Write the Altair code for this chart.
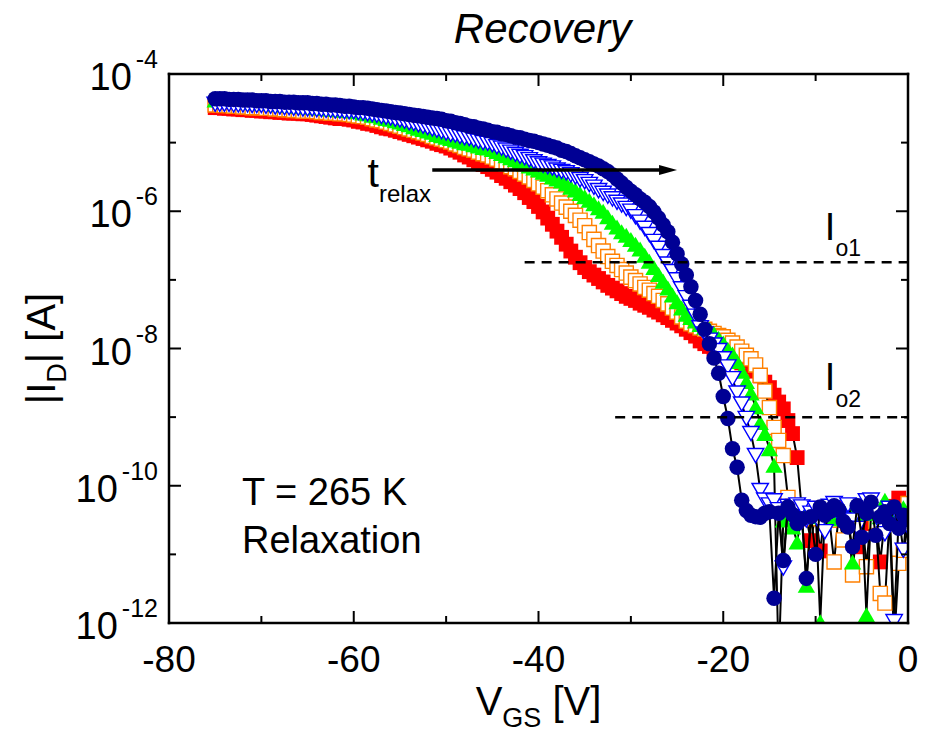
import altair as alt
import pandas as pd

FONT = "Liberation Sans"

# Gate-voltage sweep shared by every transfer curve: -75 V to 0 V in 0.5 V steps
VGS_START = -75.0
VGS_STEP = 0.5

# log10(|I_D| / 1 A) along the sweep, one list per relaxation time (shortest first)
log_id_red = [
    -4.49, -4.49, -4.50, -4.50, -4.51, -4.51, -4.52, -4.52, -4.53, -4.53,
    -4.54, -4.54, -4.55, -4.55, -4.56, -4.56, -4.57, -4.57, -4.57, -4.58,
    -4.58, -4.59, -4.60, -4.61, -4.62, -4.63, -4.64, -4.65, -4.65, -4.66,
    -4.67, -4.69, -4.70, -4.72, -4.73, -4.75, -4.77, -4.79, -4.80, -4.82,
    -4.84, -4.86, -4.88, -4.90, -4.92, -4.94, -4.96, -4.98, -5.01, -5.03,
    -5.05, -5.08, -5.11, -5.14, -5.18, -5.21, -5.25, -5.29, -5.32, -5.35,
    -5.39, -5.43, -5.48, -5.52, -5.57, -5.62, -5.67, -5.73, -5.80, -5.86,
    -5.93, -6.01, -6.10, -6.19, -6.29, -6.38, -6.48, -6.58, -6.67, -6.75,
    -6.82, -6.88, -6.93, -6.98, -7.03, -7.08, -7.12, -7.16, -7.20, -7.24,
    -7.27, -7.30, -7.34, -7.37, -7.40, -7.44, -7.47, -7.51, -7.55, -7.59,
    -7.63, -7.67, -7.72, -7.77, -7.82, -7.89, -7.93, -7.97, -8.01, -8.05,
    -8.09, -8.12, -8.15, -8.18, -8.21, -8.24, -8.27, -8.33, -8.40, -8.49,
    -8.57, -8.68, -8.78, -8.88, -9.05, -9.24, -9.59, -10.35, -10.48, -10.80,
    -10.40, -10.95, -10.38, -10.45, -10.33, -10.50, -10.42, -10.55, -10.35, -10.89,
    -10.45, -10.38, -10.55, -10.42, -11.11, -10.48, -10.30, -10.40, -10.18, -10.55,
    -10.43,
]
log_id_orange = [
    -4.45, -4.45, -4.46, -4.46, -4.47, -4.47, -4.48, -4.48, -4.49, -4.49,
    -4.49, -4.50, -4.50, -4.51, -4.51, -4.52, -4.52, -4.53, -4.53, -4.54,
    -4.54, -4.54, -4.55, -4.56, -4.56, -4.57, -4.57, -4.58, -4.58, -4.59,
    -4.60, -4.61, -4.62, -4.63, -4.65, -4.67, -4.68, -4.70, -4.72, -4.74,
    -4.76, -4.78, -4.80, -4.82, -4.84, -4.86, -4.88, -4.91, -4.93, -4.95,
    -4.97, -4.99, -5.02, -5.04, -5.07, -5.09, -5.11, -5.14, -5.16, -5.18,
    -5.21, -5.24, -5.28, -5.31, -5.35, -5.38, -5.42, -5.46, -5.50, -5.55,
    -5.60, -5.65, -5.70, -5.76, -5.82, -5.88, -5.94, -6.00, -6.06, -6.13,
    -6.21, -6.31, -6.41, -6.50, -6.58, -6.66, -6.73, -6.79, -6.85, -6.90,
    -6.96, -7.01, -7.06, -7.11, -7.15, -7.20, -7.24, -7.30, -7.35, -7.41,
    -7.47, -7.54, -7.60, -7.64, -7.67, -7.70, -7.72, -7.75, -7.78, -7.81,
    -7.83, -7.88, -7.92, -7.98, -8.04, -8.10, -8.15, -8.24, -8.39, -8.62,
    -8.86, -9.15, -9.34, -9.56, -10.17, -10.30, -10.38, -10.42, -10.35, -10.48,
    -10.40, -10.33, -10.45, -10.50, -11.11, -10.42, -10.79, -10.38, -11.30, -10.45,
    -10.35, -11.18, -10.40, -10.52, -11.57, -11.71, -10.45, -12.30, -11.13, -10.94,
    -10.26,
]
log_id_green = [
    -4.38, -4.38, -4.38, -4.39, -4.39, -4.40, -4.40, -4.41, -4.41, -4.42,
    -4.42, -4.43, -4.43, -4.44, -4.44, -4.45, -4.45, -4.46, -4.47, -4.47,
    -4.48, -4.48, -4.49, -4.49, -4.50, -4.51, -4.51, -4.52, -4.53, -4.53,
    -4.54, -4.55, -4.57, -4.58, -4.60, -4.61, -4.63, -4.65, -4.66, -4.68,
    -4.70, -4.72, -4.74, -4.77, -4.79, -4.81, -4.83, -4.85, -4.88, -4.90,
    -4.92, -4.94, -4.96, -4.98, -5.00, -5.01, -5.03, -5.05, -5.07, -5.08,
    -5.10, -5.13, -5.16, -5.19, -5.22, -5.25, -5.28, -5.31, -5.34, -5.37,
    -5.40, -5.43, -5.46, -5.50, -5.53, -5.56, -5.60, -5.65, -5.69, -5.74,
    -5.79, -5.84, -5.89, -5.95, -6.00, -6.08, -6.16, -6.23, -6.30, -6.35,
    -6.41, -6.48, -6.55, -6.64, -6.73, -6.82, -6.92, -7.02, -7.12, -7.22,
    -7.32, -7.41, -7.50, -7.55, -7.60, -7.65, -7.69, -7.72, -7.78, -7.85,
    -7.92, -8.01, -8.08, -8.19, -8.33, -8.48, -8.65, -8.85, -9.08, -9.24,
    -9.46, -9.70, -12.60, -10.50, -10.42, -10.60, -10.82, -10.38, -11.45, -10.45,
    -10.35, -11.98, -10.40, -10.48, -10.32, -10.45, -10.38, -10.30, -11.11, -10.42,
    -10.36, -11.88, -10.40, -10.33, -10.45, -10.21, -10.50, -10.38, -10.45, -10.32,
    -10.42,
]
log_id_blue = [
    -4.44, -4.44, -4.44, -4.44, -4.45, -4.45, -4.45, -4.45, -4.46, -4.46,
    -4.46, -4.47, -4.47, -4.48, -4.48, -4.49, -4.49, -4.50, -4.50, -4.51,
    -4.51, -4.51, -4.52, -4.52, -4.53, -4.53, -4.54, -4.54, -4.55, -4.55,
    -4.55, -4.56, -4.57, -4.58, -4.59, -4.60, -4.62, -4.63, -4.64, -4.66,
    -4.67, -4.69, -4.71, -4.72, -4.74, -4.76, -4.78, -4.80, -4.82, -4.84,
    -4.86, -4.88, -4.89, -4.91, -4.93, -4.94, -4.96, -4.98, -5.00, -5.01,
    -5.03, -5.06, -5.08, -5.11, -5.14, -5.17, -5.20, -5.22, -5.25, -5.28,
    -5.31, -5.33, -5.35, -5.37, -5.40, -5.42, -5.44, -5.47, -5.50, -5.54,
    -5.57, -5.61, -5.65, -5.70, -5.74, -5.78, -5.82, -5.87, -5.91, -5.96,
    -6.00, -6.08, -6.16, -6.25, -6.34, -6.44, -6.54, -6.66, -6.77, -6.88,
    -7.00, -7.13, -7.26, -7.40, -7.53, -7.70, -7.79, -7.88, -7.95, -8.03,
    -8.15, -8.27, -8.44, -8.65, -8.81, -9.02, -9.24, -9.56, -10.07, -10.21,
    -10.28, -10.22, -10.35, -11.20, -10.30, -10.45, -10.28, -10.31, -10.50, -10.40,
    -10.33, -10.55, -10.67, -10.30, -10.26, -10.42, -10.35, -10.28, -10.50, -10.62,
    -10.30, -10.22, -10.21, -10.40, -10.55, -10.70, -10.33, -11.98, -10.45, -10.94,
    -10.60,
]
log_id_navy = [
    -4.36, -4.36, -4.36, -4.37, -4.37, -4.37, -4.38, -4.38, -4.38, -4.39,
    -4.39, -4.39, -4.40, -4.40, -4.40, -4.41, -4.41, -4.41, -4.42, -4.42,
    -4.42, -4.43, -4.43, -4.44, -4.44, -4.45, -4.45, -4.46, -4.47, -4.47,
    -4.48, -4.49, -4.49, -4.50, -4.51, -4.52, -4.53, -4.54, -4.55, -4.56,
    -4.57, -4.58, -4.59, -4.60, -4.61, -4.62, -4.63, -4.64, -4.65, -4.66,
    -4.68, -4.69, -4.71, -4.72, -4.74, -4.76, -4.77, -4.79, -4.80, -4.82,
    -4.84, -4.85, -4.87, -4.88, -4.90, -4.92, -4.93, -4.95, -4.97, -4.98,
    -5.00, -5.02, -5.04, -5.06, -5.08, -5.11, -5.13, -5.16, -5.19, -5.22,
    -5.25, -5.28, -5.31, -5.34, -5.38, -5.42, -5.47, -5.53, -5.59, -5.65,
    -5.71, -5.76, -5.82, -5.87, -5.93, -6.01, -6.10, -6.20, -6.30, -6.45,
    -6.62, -6.77, -6.93, -7.10, -7.30, -7.50, -7.72, -7.93, -8.14, -8.36,
    -8.70, -9.02, -9.46, -9.73, -10.21, -10.36, -10.43, -10.45, -10.46, -10.40,
    -10.38, -11.64, -10.40, -11.09, -10.31, -10.42, -10.55, -10.48, -11.35, -10.45,
    -11.00, -10.31, -10.43, -10.38, -10.29, -10.35, -10.52, -10.60, -10.89, -10.29,
    -10.75, -10.40, -10.24, -10.72, -10.45, -10.38, -10.55, -10.31, -10.62, -10.43,
    -10.50,
]

# Axis ticks
x_major = [-80, -60, -40, -20, 0]
x_minor = [-70, -50, -30, -10]
y_major_exp = [-4, -6, -8, -10, -12]
y_minor_exp = [-5, -7, -9, -11]

# Reference current levels and the relaxation-time arrow
io1_level, io1_start = 1.8e-7, -41.5
io2_level, io2_start = 1.0e-9, -31.7
arrow_level, arrow_from, arrow_tip = 4.0e-6, -51.5, -25.0

# Plot area in pixels
W, H = 739, 549

XS = alt.Scale(domain=[-80, 0], nice=False, zero=False)
YS = alt.Scale(type="log", domain=[1e-12, 1e-4], nice=False)

# Advance widths (em) of the glyphs used in multi-part labels
EM = {"|": 0.26, "I": 0.278, "D": 0.722, " ": 0.278, "[": 0.278, "A": 0.667,
      "]": 0.278, "V": 0.667, "G": 0.778, "S": 0.667, "t": 0.278, "r": 0.333,
      "e": 0.556, "l": 0.222, "a": 0.556, "x": 0.5, "o": 0.556, "-": 0.333}


def run_width(s, size):
    return sum(EM.get(c, 0.556) for c in s) * size


one = pd.DataFrame({"k": [0]})


def xd(v):
    return alt.XDatum(v, type="quantitative", scale=XS, axis=None)


def yd(v):
    return alt.YDatum(v, type="quantitative", scale=YS, axis=None)


def sweep(log_vals):
    assert len(log_vals) == 151
    return pd.DataFrame({
        "vgs": [VGS_START + VGS_STEP * k for k in range(len(log_vals))],
        "id": [10.0 ** v for v in log_vals],
    })


def series_layers(log_vals, point_style):
    base = alt.Chart(sweep(log_vals)).encode(
        x=alt.X("vgs:Q", scale=XS, axis=None),
        y=alt.Y("id:Q", scale=YS, axis=None),
    )
    line = base.mark_line(color="black", strokeWidth=2, clip=True)
    pts = base.mark_point(clip=True, opacity=1, **point_style)
    return [line, pts]


def text_run(pieces, x, y, angle=None):
    """Consecutive text pieces (text, size, baseline shift) sharing one anchor."""
    out, off = [], 0.0
    for txt, size, shift in pieces:
        lead = len(txt) - len(txt.lstrip(" "))
        off += run_width(" " * lead, size)
        body = txt.lstrip(" ")
        kw = dict(text=body, font=FONT, fontSize=size, align="left",
                  baseline="alphabetic", dx=off, dy=shift, color="black")
        if angle is not None:
            kw["angle"] = angle
        out.append(alt.Chart(one).mark_text(**kw).encode(x=x, y=y))
        off += run_width(body, size)
    return out


SERIES = [
    (log_id_red, dict(shape="square", filled=True, color="#FF0000", size=220, strokeWidth=0)),
    (log_id_orange, dict(shape="square", filled=True, fill="#FFFFFF", stroke="#FF8000",
                         strokeWidth=1.4, size=200)),
    (log_id_green, dict(shape="triangle-up", filled=True, color="#00FF00", size=300, strokeWidth=0)),
    (log_id_blue, dict(shape="triangle-down", filled=True, fill="#FFFFFF", stroke="#0000FF",
                       strokeWidth=1.4, size=270)),
    (log_id_navy, dict(shape="circle", filled=True, color="#000094", size=240, strokeWidth=0)),
]

layers = []
for vals, style in SERIES:
    layers += series_layers(vals, style)

# Dashed reference levels
for level, start in [(io1_level, io1_start), (io2_level, io2_start)]:
    layers.append(
        alt.Chart(one).mark_rule(color="black", strokeWidth=2.5, strokeDash=[10, 7]).encode(
            x=xd(start), x2=alt.X2Datum(0), y=yd(level)
        )
    )

# Arrow for increasing relaxation time
layers.append(
    alt.Chart(one).mark_rule(color="black", strokeWidth=3.5).encode(
        x=xd(arrow_from), x2=alt.X2Datum(arrow_tip - 1.0), y=yd(arrow_level)
    )
)
layers.append(
    alt.Chart(one).mark_point(shape="M -2 -0.55 L 0 0 L -2 0.55 Z", size=324, filled=True,
                              color="black", opacity=1, strokeWidth=0).encode(
        x=xd(arrow_tip), y=yd(arrow_level)
    )
)

# Annotations in data coordinates
layers += text_run([("t", 41, 0), ("relax", 24, 15)], xd(-58.5), yd(2.25e-6))
layers += text_run([("I", 38, 0), ("o1", 23, 16)], xd(-9.0), yd(3.8e-7))
layers += text_run([("I", 38, 0), ("o2", 23, 17)], xd(-9.0), yd(2.5e-9))
for txt, yv in [("T = 265 K", 5.25e-11), ("Relaxation", 1.05e-11)]:
    layers.append(
        alt.Chart(one).mark_text(text=txt, font=FONT, fontSize=38, align="left",
                                 baseline="alphabetic", color="black").encode(x=xd(-72.1), y=yd(yv))
    )

# Title
layers.append(
    alt.Chart(one).mark_text(text="Recovery", font=FONT, fontSize=42, fontStyle="italic",
                             align="center", baseline="alphabetic", color="black").encode(
        x=alt.value(W / 2 + 4), y=alt.value(-31)
    )
)

# Axis titles with subscripts
x_title = [("V", 40, 0), ("GS", 27, 12), (" [V]", 40, 0)]
x_total = sum(run_width(t, s) for t, s, _ in x_title)
layers += text_run(x_title, alt.value(W / 2 - x_total / 2), alt.value(H + 92))
y_title = [("|I", 40, 0), ("D", 27, 11), ("| [A]", 40, 0)]
y_total = sum(run_width(t, s) for t, s, _ in y_title)
layers += text_run(y_title, alt.value(-114), alt.value(H / 2 + y_total / 2), angle=270)

# Y tick labels: 10 with a raised exponent
for e in y_major_exp:
    ex = str(e)
    exp_dx = -11
    ten_dx = exp_dx - run_width(ex, 25) - 4
    layers.append(
        alt.Chart(one).mark_text(text="10", font=FONT, fontSize=38, align="right",
                                 baseline="alphabetic", dx=ten_dx, dy=16, color="black").encode(
            x=xd(-80), y=yd(10.0 ** e))
    )
    layers.append(
        alt.Chart(one).mark_text(text=ex, font=FONT, fontSize=25, align="right",
                                 baseline="alphabetic", dx=exp_dx, dy=-6, color="black").encode(
            x=xd(-80), y=yd(10.0 ** e))
    )

# X tick labels
xlab = pd.DataFrame({"vgs": x_major, "lab": [str(v) for v in x_major]})
layers.append(
    alt.Chart(xlab).mark_text(font=FONT, fontSize=37, align="center", baseline="alphabetic",
                              dy=49, color="black").encode(
        x=alt.X("vgs:Q", scale=XS, axis=None), y=yd(1e-12), text="lab:N")
)

# Inward ticks on all four sides
for vals, length in [(x_major, 12), (x_minor, 7)]:
    df = pd.DataFrame({"vgs": vals})
    xe = alt.X("vgs:Q", scale=XS, axis=None)
    layers.append(alt.Chart(df).mark_rule(color="black", strokeWidth=2).encode(
        x=xe, y=alt.value(H - length), y2=alt.value(H)))
    layers.append(alt.Chart(df).mark_rule(color="black", strokeWidth=2).encode(
        x=xe, y=alt.value(0), y2=alt.value(length)))
for exps, length in [(y_major_exp, 12), (y_minor_exp, 7)]:
    df = pd.DataFrame({"id": [10.0 ** e for e in exps]})
    ye = alt.Y("id:Q", scale=YS, axis=None)
    layers.append(alt.Chart(df).mark_rule(color="black", strokeWidth=2).encode(
        y=ye, x=alt.value(0), x2=alt.value(length)))
    layers.append(alt.Chart(df).mark_rule(color="black", strokeWidth=2).encode(
        y=ye, x=alt.value(W - length), x2=alt.value(W)))

# Frame
frame_kw = dict(color="black", strokeWidth=2.5, strokeCap="square")
layers.append(alt.Chart(one).mark_rule(**frame_kw).encode(x=alt.value(0), x2=alt.value(W), y=alt.value(0)))
layers.append(alt.Chart(one).mark_rule(**frame_kw).encode(x=alt.value(0), x2=alt.value(W), y=alt.value(H)))
layers.append(alt.Chart(one).mark_rule(**frame_kw).encode(x=alt.value(0), y=alt.value(0), y2=alt.value(H)))
layers.append(alt.Chart(one).mark_rule(**frame_kw).encode(x=alt.value(W), y=alt.value(0), y2=alt.value(H)))

chart = (
    alt.layer(*layers)
    .properties(
        width=W,
        height=H,
        autosize=alt.AutoSizeParams(type="none"),
        padding={"left": 169, "top": 74, "right": 25, "bottom": 119},
        background="white",
    )
    .configure_view(strokeWidth=0)
)

chart.save("out.html", embed_options={"renderer": "svg", "actions": False})
